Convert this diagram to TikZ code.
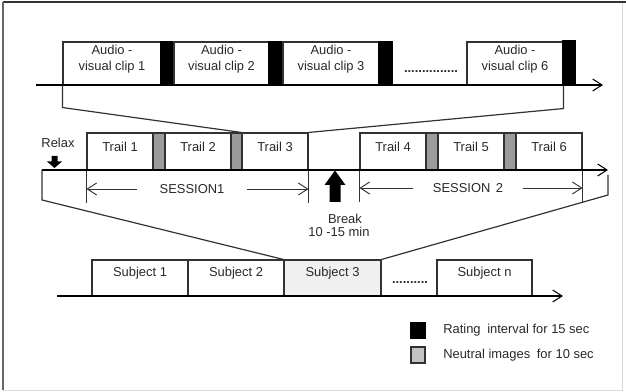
\documentclass[tikz,border=0pt]{standalone}
\usepackage{fontspec}
\setmainfont{Liberation Sans}
\usetikzlibrary{fit,arrows.meta}
\definecolor{txt}{RGB}{40,40,40}
\definecolor{boxc}{RGB}{50,50,50}
\definecolor{midgray}{RGB}{155,155,155}
\definecolor{leggray}{RGB}{195,195,195}
\definecolor{subfill}{RGB}{240,240,240}
\begin{document}
\begin{tikzpicture}[x=0.75pt,y=-0.75pt,
  every node/.style={font=\fontsize{9.7pt}{12pt}\selectfont, text=txt},
  box/.style={draw=boxc, line width=0.8pt, inner sep=0pt, align=center},
  blk/.style={fill=black, draw=black, line width=0.8pt, inner sep=0pt},
  gbar/.style={fill=midgray, draw=boxc, line width=0.8pt, inner sep=0pt},
  axis/.style={line width=1.2pt, -{Straight Barb[length=7pt,width=9pt,line width=0.8pt]}},
  conn/.style={line width=0.9pt, draw=boxc},
  tick/.style={line width=0.7pt, draw=boxc},
  sarrow/.style={line width=0.7pt, draw=boxc, -{Straight Barb[length=7pt,width=9pt,line width=0.7pt]}},
  dots/.style={inner sep=0pt, font=\bfseries\fontsize{9.7pt}{12pt}\selectfont}
]
\useasboundingbox (0,0) rectangle (626,392);
% frame
\draw[line width=0.6pt, draw=black!15] (3,2) -- (622,2) -- (622,390) -- (3,390) -- cycle;
\draw[line width=0.9pt, draw=black!80] (3,2) -- (626,2);
\draw[line width=0.9pt, draw=black!60] (3,2) -- (3,390);

% ---- top row: clips
\node[box, fit={(63,42)(161,85)}] (c1) {Audio -\\visual clip 1};
\node[blk, fit={(161,42)(174,85)}] (b1) {};
\node[box, fit={(174,42)(269,85)}] (c2) {Audio -\\visual clip 2};
\node[blk, fit={(269,42)(283,85)}] (b2) {};
\node[box, fit={(283,42)(379,85)}] (c3) {Audio -\\visual clip 3};
\node[blk, fit={(379,42)(392,85)}] (b3) {};
\node[dots] (d1) at (431,72) {...............};
\node[box, fit={(467,42)(563,85)}] (c6) {Audio -\\visual clip 6};
\node[blk, fit={(563,41)(575,85)}] (b6) {};
\coordinate (a1s) at (36,85);
\coordinate (a1e) at (603,85);
\draw[axis] (a1s) -- (a1e);

% ---- middle row: trails
\node[box, fit={(87,133)(153,170)}] (t1) {Trail 1};
\node[gbar, fit={(153,133)(165,170)}] (g1) {};
\node[box, fit={(165,133)(231,170)}] (t2) {Trail 2};
\node[gbar, fit={(231,133)(242,170)}] (g2) {};
\node[box, fit={(242,133)(308,170)}] (t3) {Trail 3};
\node[box, fit={(360,133)(426,170)}] (t4) {Trail 4};
\node[gbar, fit={(426,133)(438,170)}] (g4) {};
\node[box, fit={(438,133)(504,170)}] (t5) {Trail 5};
\node[gbar, fit={(504,133)(516,170)}] (g5) {};
\node[box, fit={(516,133)(582,170)}] (t6) {Trail 6};
\coordinate (a2s) at (42,170);
\coordinate (a2e) at (608,170);
\draw[axis] (a2s) -- (a2e);

% connectors top -> trail 3
\draw[conn] (c1.south west) -- ++(0,22) -- (t3.north west);
\draw[conn] (c6.south east) -- ++(0,23) -- (t3.north east);

% relax
\node (relax) at (58,143) {Relax};
\fill[black] (51.5,156) -- (57.5,156) -- (57.5,161.5) -- (62,161.5) -- (54.5,168) -- (47,161.5) -- (51.5,161.5) -- cycle;

% break
\fill[black] (335,170.5) -- (345.5,185) -- (340.5,185) -- (340.5,202) -- (329.5,202) -- (329.5,185) -- (324.5,185) -- cycle;
\node (brk) at (345,219) {Break};
\node (brkt) at (339,232) {10 -15 min};

% sessions
\draw[tick] (t1.south west) -- ++(0,32);
\draw[tick] (t3.south east) -- ++(0,32);
\draw[tick] (t4.south west) -- ++(0,31);
\draw[tick] (t6.south east) -- ++(0,31);
\node (ses1) at (192,189) {SESSION1};
\coordinate (s1l) at (137,189);
\coordinate (s1r) at (247,189);
\draw[sarrow] (s1l) -- (s1l -| t1.south west);
\draw[sarrow] (s1r) -- (s1r -| t3.south east);
\node (ses2) at (468,188) {SESSION\hspace{4pt}2};
\coordinate (s2l) at (413,188);
\coordinate (s2r) at (523,188);
\draw[sarrow] (s2l) -- (s2l -| t4.south west);
\draw[sarrow] (s2r) -- (s2r -| t6.south east);

% ---- bottom row: subjects
\node[box, fit={(92,260)(188,296)}] (s1) {Subject 1};
\node[box, fit={(188,260)(284,296)}] (s2) {Subject 2};
\node[box, fill=subfill, fit={(284,260)(381,296)}] (s3) {Subject 3};
\node[dots] (d2) at (410,283) {..........};
\node[box, fit={(437,260)(532,296)}] (sn) {Subject n};
\coordinate (a3s) at (57,296);
\coordinate (a3e) at (563,296);
\draw[axis] (a3s) -- (a3e);

% connectors middle -> subject 3
\draw[conn] (a2s) -- ++(0,30) -- (s3.north west);
\coordinate (rt) at (608,175);
\draw[conn] (rt) -- ++(0,20) -- (s3.north east);

% ---- legend
\node[blk, fit={(411,323)(425,338)}] (lk1) {};
\node[anchor=west, inner sep=0pt] (lt1) at (443,330.5) {Rating\hspace{5pt}interval for 15 sec};
\node[box, fill=leggray, fit={(411,347)(425,363)}] (lk2) {};
\node[anchor=west, inner sep=0pt] (lt2) at (443,355) {Neutral images\hspace{5pt}for 10 sec};
\end{tikzpicture}
\end{document}
